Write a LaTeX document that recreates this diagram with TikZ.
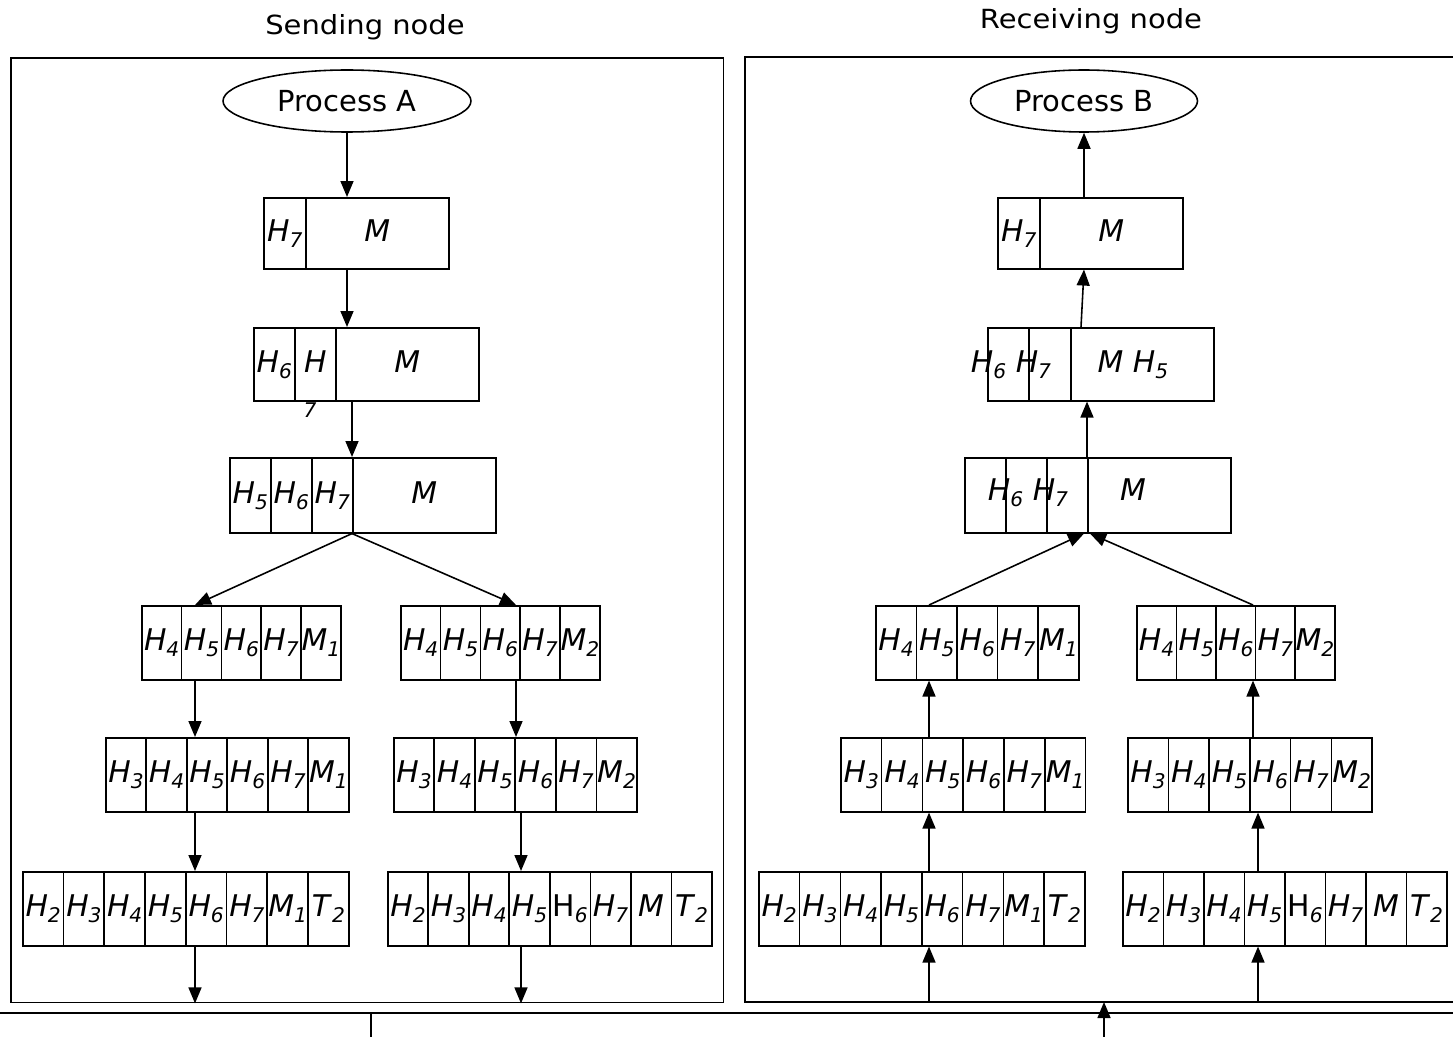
\documentclass[tikz,border=0pt]{standalone}
\usepackage{fontspec}
\setmainfont{DejaVu Sans}
\newfontfamily\ttlfam[FakeStretch=1.1]{DejaVu Sans}
\usetikzlibrary{arrows.meta}
\usetikzlibrary{shapes.geometric,calc}

\newcommand\subfnt{\fontsize{11.5}{11.5}\selectfont}
\newcommand\hsub[2]{\textit{#1}\raisebox{-3.4pt}{\subfnt\textit{#2}}}
\newcommand\hup[2]{#1\raisebox{-3.4pt}{\subfnt\textit{#2}}}

\tikzset{
  cell/.style={draw, inner sep=0pt, anchor=north west, minimum width=#1,
    minimum height=1.48cm, font=\fontsize{17}{20}\selectfont,
    text height=12.4pt, text depth=3.4pt},
  lbl/.style={inner sep=0pt, font=\fontsize{17}{20}\selectfont,
    text height=12.4pt, text depth=3.4pt},
  arr/.style={-{Triangle[length=3.2mm,width=2.6mm]}},
  proc/.style={ellipse, draw, inner sep=0pt, minimum height=1.24cm,
    font=\fontsize{16.5}{20}\selectfont},
  title/.style={font=\ttlfam\fontsize{15}{18}\selectfont}
}

\begin{document}
\begin{tikzpicture}[x=0.02cm,y=-0.02cm,line width=0.9pt]
    \useasboundingbox (0,0) rectangle (1453,1037);

    % frames
    \node [title] (tA) at (365,27) {Sending node};
    \node [title] (tB) at (1091,21) {Receiving node};
    \node [draw, anchor=north west, inner sep=0pt, minimum width=14.26cm,
      minimum height=18.9cm] (sendbox) at (10,57) {};
    \coordinate (rNE) at (1453,57);
    \coordinate (rNW) at (745,57);
    \coordinate (rSW) at (745,1002);
    \coordinate (rSE) at (1453,1002);
    \draw (rNE) -- (rNW) -- (rSW) -- (rSE);

    \node [proc, minimum width=4.96cm] (pA) at (347,101) {Process A};
    \node [proc, minimum width=4.54cm] (pB) at (1084,101) {Process B};

    % sending side
    \node [cell=0.84cm, minimum height=1.42cm] (a1-1) at (263,197) {\makebox[0pt]{\hsub{H}{7}}};
    \node [cell=2.86cm, minimum height=1.42cm] (a1-2) at (305,197) {\textit{M}};

    \node [cell=0.82cm, minimum height=1.46cm] (a2-1) at (253,327) {\makebox[0pt]{\hsub{H}{6}}};
    \node [cell=0.82cm, minimum height=1.46cm] (a2-2) at (294,327) {\textit{H}};
    \node [cell=2.86cm, minimum height=1.46cm] (a2-3) at (335,327) {\textit{M}};
    \node [font=\subfnt] (a2-sub) at (310,410) {\textit{7}};

    \foreach \t [count=\i] in {\hsub{H}{5},\hsub{H}{6},\hsub{H}{7}}
      \node [cell=0.82cm, minimum height=1.5cm] (a3-\i) at ({229+(\i-1)*41},457) {\makebox[0pt]{\t}};
    \node [cell=2.86cm, minimum height=1.5cm] (a3-4) at (352,457) {\textit{M}};

    \foreach \t [count=\i] in {\hsub{H}{4},\hsub{H}{5},\hsub{H}{6},\hsub{H}{7},\hsub{M}{1}}
      \node [cell=0.796cm] (a4L-\i) at ({141+(\i-1)*39.8},605) {\makebox[0pt]{\t}};
    \foreach \t [count=\i] in {\hsub{H}{4},\hsub{H}{5},\hsub{H}{6},\hsub{H}{7},\hsub{M}{2}}
      \node [cell=0.796cm] (a4R-\i) at ({400+(\i-1)*39.8},605) {\makebox[0pt]{\t}};

    \foreach \t [count=\i] in {\hsub{H}{3},\hsub{H}{4},\hsub{H}{5},\hsub{H}{6},\hsub{H}{7},\hsub{M}{1}}
      \node [cell=0.81cm] (a5L-\i) at ({105+(\i-1)*40.5},737) {\makebox[0pt]{\t}};
    \foreach \t [count=\i] in {\hsub{H}{3},\hsub{H}{4},\hsub{H}{5},\hsub{H}{6},\hsub{H}{7},\hsub{M}{2}}
      \node [cell=0.81cm] (a5R-\i) at ({393+(\i-1)*40.5},737) {\makebox[0pt]{\t}};

    \foreach \t [count=\i] in {\hsub{H}{2},\hsub{H}{3},\hsub{H}{4},\hsub{H}{5},\hsub{H}{6},\hsub{H}{7},\hsub{M}{1},\hsub{T}{2}}
      \node [cell=0.815cm] (a6L-\i) at ({22+(\i-1)*40.75},871) {\makebox[0pt]{\t}};
    \foreach \t [count=\i] in {\hsub{H}{2},\hsub{H}{3},\hsub{H}{4},\hsub{H}{5},\hup{H}{6},\hsub{H}{7},\textit{M},\hsub{T}{2}}
      \node [cell=0.81cm] (a6R-\i) at ({387+(\i-1)*40.5},871) {\makebox[0pt]{\t}};

    % receiving side
    \node [cell=0.84cm, minimum height=1.42cm] (b1-1) at (997,197) {\makebox[0pt]{\hsub{H}{7}}};
    \node [cell=2.86cm, minimum height=1.42cm] (b1-2) at (1039,197) {\textit{M}};

    \node [cell=0.82cm, minimum height=1.46cm] (b2-1) at (987,327) {};
    \node [cell=0.84cm, minimum height=1.46cm] (b2-2) at (1028,327) {};
    \node [cell=2.86cm, minimum height=1.46cm] (b2-3) at (1070,327) {};
    \node [lbl] (b2-t1) at (1011,365) {\hsub{H}{6} \hsub{H}{7}};
    \node [lbl] (b2-t2) at (1133,365) {\textit{M} \hsub{H}{5}};

    \foreach \i in {1,2,3}
      \node [cell=0.82cm, minimum height=1.5cm] (b3-\i) at ({964+(\i-1)*41},457) {};
    \node [cell=2.86cm, minimum height=1.5cm] (b3-4) at (1087,457) {};
    \node [lbl] (b3-t1) at (1028,493) {\hsub{H}{6} \hsub{H}{7}};
    \node [lbl] (b3-t2) at (1133,493) {\textit{M}};

    \foreach \t [count=\i] in {\hsub{H}{4},\hsub{H}{5},\hsub{H}{6},\hsub{H}{7},\hsub{M}{1}}
      \node [cell=0.812cm] (b4L-\i) at ({875+(\i-1)*40.6},605) {\makebox[0pt]{\t}};
    \foreach \t [count=\i] in {\hsub{H}{4},\hsub{H}{5},\hsub{H}{6},\hsub{H}{7},\hsub{M}{2}}
      \node [cell=0.792cm] (b4R-\i) at ({1136+(\i-1)*39.6},605) {\makebox[0pt]{\t}};

    \foreach \t [count=\i] in {\hsub{H}{3},\hsub{H}{4},\hsub{H}{5},\hsub{H}{6},\hsub{H}{7},\hsub{M}{1}}
      \node [cell=0.816cm] (b5L-\i) at ({840+(\i-1)*40.8},737) {\makebox[0pt]{\t}};
    \foreach \t [count=\i] in {\hsub{H}{3},\hsub{H}{4},\hsub{H}{5},\hsub{H}{6},\hsub{H}{7},\hsub{M}{2}}
      \node [cell=0.814cm] (b5R-\i) at ({1127+(\i-1)*40.7},737) {\makebox[0pt]{\t}};

    \foreach \t [count=\i] in {\hsub{H}{2},\hsub{H}{3},\hsub{H}{4},\hsub{H}{5},\hsub{H}{6},\hsub{H}{7},\hsub{M}{1},\hsub{T}{2}}
      \node [cell=0.815cm] (b6L-\i) at ({758+(\i-1)*40.75},871) {\makebox[0pt]{\t}};
    \foreach \t [count=\i] in {\hsub{H}{2},\hsub{H}{3},\hsub{H}{4},\hsub{H}{5},\hup{H}{6},\hsub{H}{7},\textit{M},\hsub{T}{2}}
      \node [cell=0.81cm] (b6R-\i) at ({1122+(\i-1)*40.5},871) {\makebox[0pt]{\t}};

    % arrows, sending side
    \coordinate (xl) at (195,0);
    \coordinate (xr) at (516,0);
    \coordinate (xr2) at (521,0);
    \draw [arr] (pA) -- (pA |- a1-2.north);
    \draw [arr] (pA |- a1-2.south) -- (pA |- a2-3.north);
    \draw [arr] (a3-4.north west |- a2-3.south) -- (a3-4.north west);
    \draw [arr] (a3-4.south west) -- (xl |- a4L-1.north);
    \draw [arr] (a3-4.south west) -- (xr |- a4R-1.north);
    \draw [arr] (xl |- a4L-1.south) -- (xl |- a5L-1.north);
    \draw [arr] (xr |- a4R-1.south) -- (xr |- a5R-1.north);
    \draw [arr] (xl |- a5L-1.south) -- (xl |- a6L-1.north);
    \draw [arr] (xr2 |- a5R-1.south) -- (xr2 |- a6R-1.north);
    \draw [arr] (xl |- a6L-1.south) -- (xl |- sendbox.south);
    \draw [arr] (xr2 |- a6R-1.south) -- (xr2 |- sendbox.south);

    % arrows, receiving side
    \coordinate (yl) at (929,0);
    \coordinate (yr) at (1253,0);
    \coordinate (yr2) at (1258,0);
    \draw [arr] (yl |- rSW) -- (yl |- b6L-1.south);
    \draw [arr] (yr2 |- rSW) -- (yr2 |- b6R-1.south);
    \draw [arr] (yl |- b6L-1.north) -- (yl |- b5L-1.south);
    \draw [arr] (yr2 |- b6R-1.north) -- (yr2 |- b5R-1.south);
    \draw [arr] (yl |- b5L-1.north) -- (yl |- b4L-1.south);
    \draw [arr] (yr |- b5R-1.north) -- (yr |- b4R-1.south);
    \draw [arr] (yl |- b4L-1.north) -- ($(b3-4.south west)+(-3,0)$);
    \draw [arr] (yr |- b4R-1.north) -- ($(b3-4.south west)+(3,0)$);
    \draw [arr] (b3-4.north west) -- (b3-4.north west |- b2-3.south);
    \draw [arr] ($(pB |- b2-3.north)+(-3,0)$) -- (pB |- b1-2.south);
    \draw [arr] (pB |- b1-2.north) -- (pB);

    % network
    \coordinate (netW) at (0,1013);
    \coordinate (netE) at (1453,1013);
    \draw (netW) -- (netE);
    \coordinate (tapA) at (371,1037);
    \coordinate (tapB) at (1104,1037);
    \draw (tapA) -- (tapA |- netW);
    \draw [arr] (tapB) -- (tapB |- rSW);
\end{tikzpicture}
\end{document}
